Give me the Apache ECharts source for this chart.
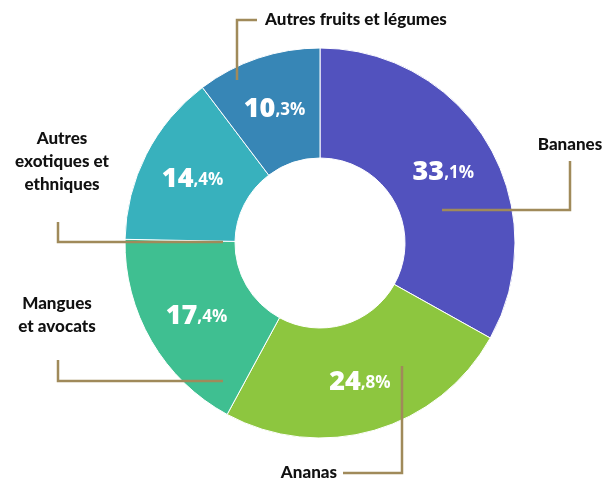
<!DOCTYPE html>
<html>
<head>
<meta charset="utf-8">
<script src="https://cdn.jsdelivr.net/npm/echarts@6/dist/echarts.min.js"></script>
<style>
  html, body { margin: 0; padding: 0; background: #fff; }
  #main { width: 606px; height: 483px; }
</style>
</head>
<body>
<div id="main"></div>
<script>
var categories = ['Bananes', 'Ananas', 'Mangues\net avocats', 'Autres\nexotiques et\nethniques', 'Autres fruits et légumes'];
var values = [33.1, 24.8, 17.4, 14.4, 10.3];
var colors = ['#5252BE', '#8DC63F', '#3FBF91', '#38B1BD', '#3786B6'];

// label anchor + leader line for each slice (outside labels)
var outside = [
  { x: 570, y: 145, align: 'center', line: [[442, 210], [570, 210], [570, 161]] },
  { x: 337, y: 473, align: 'right', line: [[402, 366], [402, 473], [343, 473]] },
  { x: 57, y: 315, align: 'center', line: [[223, 381], [58, 381], [58, 360]] },
  { x: 62, y: 162, align: 'center', line: [[223, 242], [58, 242], [58, 222]] },
  { x: 265, y: 20, align: 'left', line: [[237, 80], [237, 20], [257, 20]] }
];

var chartDom = document.getElementById('main');
var myChart = echarts.init(chartDom);
var option;

var pieData = categories.map(function (c, i) {
  return { name: c, value: values[i], itemStyle: { color: colors[i] } };
});

option = {
  animation: false,
  series: [
    {
      type: 'pie',
      center: [320, 243],
      radius: [85, 195],
      startAngle: 90,
      silent: true,
      itemStyle: { borderColor: '#fff', borderWidth: 1 },
      label: {
        position: 'inside',
        formatter: function (p) {
          var parts = p.value.toFixed(1).split('.');
          return '{big|' + parts[0] + '}{small|,' + parts[1] + '%}';
        },
        rich: {
          big: { fontFamily: 'Open Sans', fontWeight: 800, fontSize: 27, color: '#fff', verticalAlign: 'bottom', lineHeight: 30 },
          small: { fontFamily: 'Open Sans', fontWeight: 700, fontSize: 17, color: '#fff', verticalAlign: 'bottom', lineHeight: 30, padding: [0, 0, 4, 0] }
        }
      },
      labelLine: { show: false },
      data: pieData
    },
    {
      type: 'pie',
      center: [320, 243],
      radius: [85, 195],
      startAngle: 90,
      silent: true,
      z: 3,
      itemStyle: { color: 'rgba(0,0,0,0)' },
      label: {
        position: 'outside',
        formatter: '{b}',
        fontFamily: 'Lato',
        fontWeight: 900,
        fontSize: 17,
        lineHeight: 23,
        color: '#111',
        overflow: 'none',
        width: 300
      },
      labelLine: { show: true, lineStyle: { color: '#A08A5A', width: 2.5 } },
      labelLayout: function (p) {
        var o = outside[p.dataIndex];
        return { x: o.x, y: o.y, align: o.align, verticalAlign: 'middle', labelLinePoints: o.line };
      },
      data: pieData.map(function (d) { return { name: d.name, value: d.value }; })
    }
  ]
};

option && myChart.setOption(option);
</script>
</body>
</html>
